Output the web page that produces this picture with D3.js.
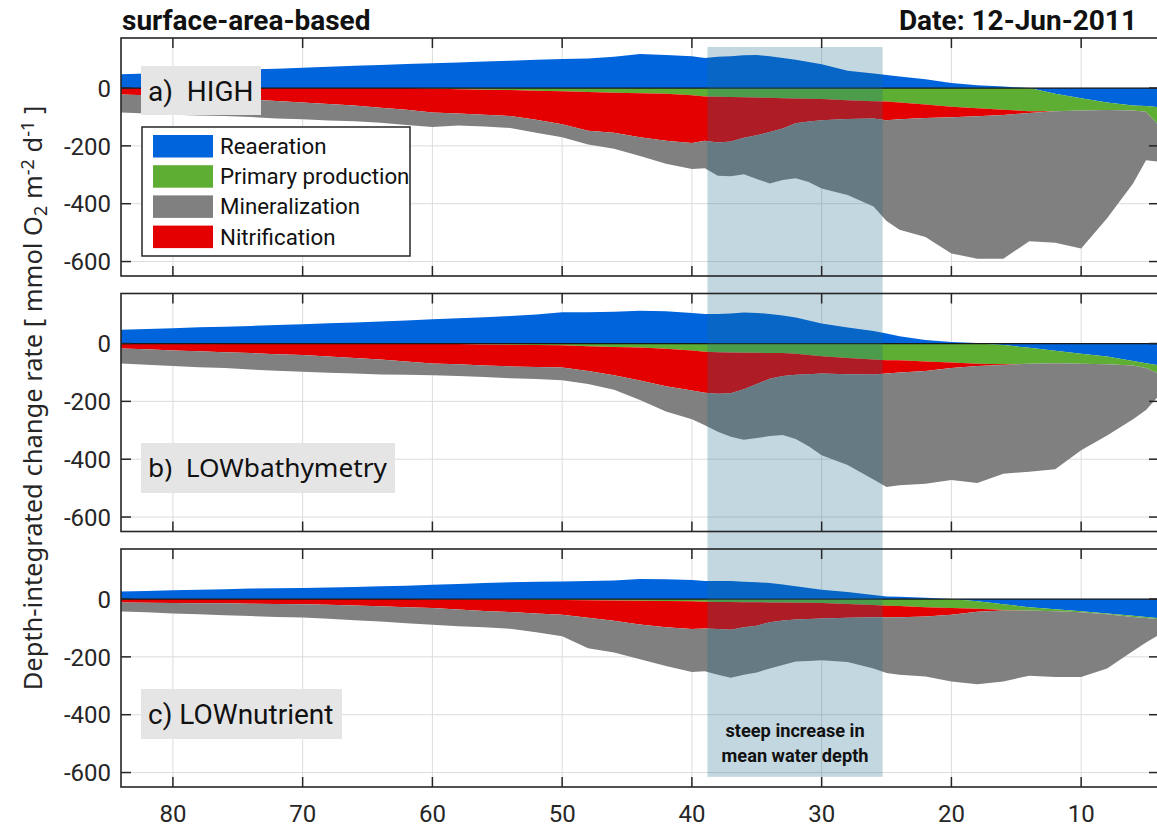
<!DOCTYPE html>
<html><head><meta charset="utf-8">
<script src="https://cdn.jsdelivr.net/npm/d3@7"></script>
<style>body{margin:0;background:#fff} svg{display:block}</style>
</head><body>
<svg id="chart" width="1157" height="828"></svg>
<script>
// distance along estuary (km)
const distance = [84,82,80,78,76,74,72,70,68,66,64,62,60,58,56,54,52,50,48,46,44,42,40,39,38,37,36,35,34,33,32,31,30,28,26,25,24,22,20,18,16,14,12,10,8,6,5,4];

// a) HIGH
const highReaeration = [48,50,55,60,63,65,67,70,74,77,80,83,86,88,92,94,98,100,102,108,118,114,110,104,108,110,113,114,110,104,98,90,82,60,50,45,40,30,17,10,5,0,-20,-35,-50,-60,-62,-66];
const highPrimary    = [0,0,0,0,0,0,0,0,0,0,0,0,-2,-4,-6,-7,-9,-11,-14,-16,-18,-20,-25,-29,-30,-31,-32,-33,-34,-35,-36,-37,-38,-42,-46,-47,-50,-57,-65,-70,-75,-80,-60,-43,-26,-18,-20,-64];
const highNitrif     = [-22,-25,-30,-33,-37,-40,-45,-50,-55,-60,-68,-75,-83,-84,-86,-90,-101,-114,-134,-139,-152,-162,-165,-153,-158,-154,-140,-130,-118,-105,-86,-79,-73,-65,-59,-64,-58,-47,-36,-28,-18,-6,0,0,0,0,0,0];
const highMineral    = [-63,-63,-62,-62,-60,-60,-60,-58,-57,-55,-52,-53,-50,-42,-41,-41,-45,-45,-47,-55,-65,-80,-90,-95,-115,-120,-126,-152,-178,-178,-190,-209,-236,-263,-305,-349,-382,-411,-471,-492,-497,-444,-455,-477,-374,-252,-168,-125];

// b) LOWbathymetry
const bathReaeration = [48,50,53,56,58,61,64,67,70,73,76,80,84,87,91,95,100,108,108,110,113,112,106,102,102,104,107,106,102,97,90,80,69,55,43,35,25,12,5,2,-5,-15,-25,-35,-45,-60,-68,-75];
const bathPrimary    = [0,0,0,0,0,0,0,0,0,0,0,0,-1,-2,-3,-4,-5,-6,-9,-12,-14,-18,-24,-28,-30,-31,-32,-32,-33,-33,-35,-40,-44,-50,-55,-58,-58,-62,-66,-70,-67,-55,-43,-35,-27,-16,-17,-30];
const bathNitrif     = [-17,-20,-24,-27,-30,-33,-37,-40,-45,-50,-55,-62,-68,-70,-73,-75,-76,-77,-86,-98,-114,-130,-138,-142,-144,-141,-126,-108,-89,-79,-73,-66,-60,-56,-52,-46,-42,-33,-19,-8,-2,0,0,0,0,0,0,0];
const bathMineral    = [-52,-53,-54,-55,-55,-57,-57,-58,-56,-54,-52,-46,-41,-40,-40,-41,-42,-44,-45,-50,-67,-87,-100,-113,-131,-150,-175,-187,-198,-204,-222,-249,-282,-314,-363,-392,-390,-390,-387,-404,-376,-373,-367,-299,-246,-186,-145,-75];

// c) LOWnutrient
const nutrReaeration = [26,28,30,32,34,36,37,38,40,42,44,46,49,52,55,58,60,61,62,64,69,68,66,62,62,62,60,58,55,50,44,38,32,24,14,9,8,4,0,-8,-18,-28,-35,-42,-50,-58,-62,-66];
const nutrPrimary    = [0,0,0,0,0,0,0,0,0,0,0,0,-1,-1,-2,-2,-3,-3,-4,-5,-6,-7,-8,-9,-10,-10,-11,-11,-12,-12,-13,-13,-14,-17,-21,-23,-24,-28,-31,-26,-20,-12,-7,-4,-3,-4,-4,-4];
const nutrNitrif     = [-12,-13,-14,-15,-15,-16,-17,-18,-20,-22,-25,-28,-30,-35,-39,-43,-47,-51,-61,-70,-82,-91,-96,-93,-94,-96,-87,-81,-68,-62,-58,-56,-53,-48,-42,-40,-39,-32,-23,-10,-2,0,0,0,0,0,0,0];
const nutrMineral    = [-31,-33,-36,-38,-41,-43,-45,-46,-48,-51,-53,-56,-58,-58,-57,-58,-65,-75,-105,-110,-120,-134,-148,-148,-158,-166,-164,-162,-160,-154,-145,-145,-145,-153,-177,-193,-199,-208,-231,-251,-245,-225,-228,-224,-187,-118,-84,-54];

// stacking order (closest to zero first) and legend order
const seriesKeys  = ["rea","prim","nit","min"];
const seriesNames = {rea:"Reaeration", prim:"Primary production", min:"Mineralization", nit:"Nitrification"};
const legendKeys  = ["rea","prim","min","nit"];
const colors = {rea:"#0064dc", prim:"#5dae33", min:"#808080", nit:"#e40000"};
const sinkKeys = ["prim","nit","min"]; // always <= 0
const panelLabels = ["a)  HIGH","b)  LOWbathymetry","c) LOWnutrient"];
const xTicks = [80,70,60,50,40,30,20,10];
const yTicks = [0,-200,-400,-600];
const xDomain = [84,4];
const yDomain = [-650,173];
const band = [38.8,25.3];
const bandText = ["steep increase in","mean water depth"];
const titleLeft = "surface-area-based";
const titleRight = "Date: 12-Jun-2011";

const panelData = [
  [highReaeration,highPrimary,highNitrif,highMineral],
  [bathReaeration,bathPrimary,bathNitrif,bathMineral],
  [nutrReaeration,nutrPrimary,nutrNitrif,nutrMineral]
];

const svg = d3.select("#chart");
const left = 121, right = 1159, ph = 238;
const tops = [38, 293.5, 549];
const x = d3.scaleLinear().domain(xDomain).range([left,right]);
const axisColor = "#262626";

const stack = d3.stack().keys(seriesKeys).offset(d3.stackOffsetDiverging).order(d3.stackOrderNone)
  .value((row,key)=> (sinkKeys.includes(key) && row[key]===0) ? -1e-9 : row[key]);

const panelsG = [];
tops.forEach((top,pi)=>{
  const y = d3.scaleLinear().domain(yDomain).range([top+ph, top]);
  const g = svg.append("g");
  panelsG.push({g,y,top});
  const clipId = "clip"+pi;
  svg.append("clipPath").attr("id",clipId).append("rect").attr("x",left).attr("y",top).attr("width",right-left).attr("height",ph);
  const grid = g.append("g").attr("clip-path",`url(#${clipId})`);
  grid.selectAll(".gx").data(xTicks).join("line").attr("x1",d=>x(d)).attr("x2",d=>x(d)).attr("y1",top).attr("y2",top+ph).attr("stroke","#dcdcdc").attr("stroke-width",1);
  grid.selectAll(".gy").data(yTicks).join("line").attr("y1",d=>y(d)).attr("y2",d=>y(d)).attr("x1",left).attr("x2",right).attr("stroke","#dcdcdc").attr("stroke-width",1);
  const arr = panelData[pi];
  const rows = distance.map((d,i)=>({d, rea:arr[0][i], prim:arr[1][i], nit:arr[2][i], min:arr[3][i]}));
  const stacked = stack(rows);
  const area = d3.area().x((d,i)=>x(rows[i].d)).y0(d=>y(d[0])).y1(d=>y(d[1]));
  const areas = g.append("g").attr("clip-path",`url(#${clipId})`);
  areas.selectAll("path").data(stacked).join("path").attr("d",area).attr("fill",s=>colors[s.key]);
  areas.append("line").attr("x1",left).attr("x2",right).attr("y1",y(0)).attr("y2",y(0)).attr("stroke","#1a1a1a").attr("stroke-width",1.2);
});

// shaded band
const yTopBand = panelsG[0].y(142), yBotBand = panelsG[2].y(-615);
const bx = (x(band[0])+x(band[1]))/2;
svg.append("rect").attr("x",x(band[0])).attr("width",x(band[1])-x(band[0])).attr("y",yTopBand).attr("height",yBotBand-yTopBand)
  .attr("fill","rgb(30,107,141)").attr("fill-opacity",0.27);
svg.append("text").attr("y",737).attr("text-anchor","middle")
  .attr("font-family","Roboto").attr("font-weight","bold").attr("font-size",18.2).attr("fill","#111")
  .selectAll("tspan").data(bandText).join("tspan").attr("x",bx).attr("dy",(d,i)=>i?25:0).text(d=>d);

// axes, ticks, panel labels
const boxes = [[141,66,120,49,"Roboto",28],[141,443,254,50,"Noto Sans",26.3],[141,689,201,50,"Roboto",28]];
panelsG.forEach(({g,y,top},pi)=>{
  const ax = svg.append("g");
  ax.append("rect").attr("x",left).attr("y",top).attr("width",right-left).attr("height",ph).attr("fill","none").attr("stroke",axisColor).attr("stroke-width",1.6);
  const tl = 10;
  xTicks.forEach(t=>{
    ax.append("line").attr("x1",x(t)).attr("x2",x(t)).attr("y1",top).attr("y2",top+tl).attr("stroke",axisColor).attr("stroke-width",1.5);
    ax.append("line").attr("x1",x(t)).attr("x2",x(t)).attr("y1",top+ph).attr("y2",top+ph-tl).attr("stroke",axisColor).attr("stroke-width",1.5);
  });
  yTicks.forEach(t=>{
    ax.append("line").attr("x1",left).attr("x2",left+tl).attr("y1",y(t)).attr("y2",y(t)).attr("stroke",axisColor).attr("stroke-width",1.5);
    ax.append("line").attr("x1",right).attr("x2",right-tl).attr("y1",y(t)).attr("y2",y(t)).attr("stroke",axisColor).attr("stroke-width",1.5);
    ax.append("text").attr("x",left-10).attr("y",y(t)).attr("dy","0.36em").attr("text-anchor","end")
      .attr("font-family","Roboto").attr("font-size",24).attr("fill",axisColor).text(t);
  });
  const b = boxes[pi];
  svg.append("rect").attr("x",b[0]).attr("y",b[1]).attr("width",b[2]).attr("height",b[3]).attr("fill","#e5e5e5");
  svg.append("text").attr("x",b[0]+7).attr("y",b[1]+b[3]/2).attr("dy","0.36em").attr("font-family",b[4]).attr("font-size",b[5])
    .attr("fill","#111").style("white-space","pre").text(panelLabels[pi]);
});

// x tick labels
xTicks.forEach(t=>{
  svg.append("text").attr("x",x(t)).attr("y",813).attr("dy","0.36em").attr("text-anchor","middle")
    .attr("font-family","Roboto").attr("font-size",24).attr("fill",axisColor).text(t);
});

// legend
const lg = svg.append("g");
lg.append("rect").attr("x",142).attr("y",127).attr("width",268).attr("height",129).attr("fill","#fff").attr("stroke",axisColor).attr("stroke-width",1.5);
legendKeys.forEach((k,i)=>{
  lg.append("rect").attr("x",153).attr("y",135+i*30.2).attr("width",60).attr("height",22.5).attr("fill",colors[k]);
  lg.append("text").attr("x",220).attr("y",146+i*30.2).attr("dy","0.36em").attr("font-family","Roboto").attr("font-size",22.3)
    .attr("fill","#111").text(seriesNames[k]);
});

// titles
svg.append("text").attr("x",122).attr("y",30).attr("font-family","Roboto").attr("font-weight","bold").attr("font-size",28).attr("fill","#111").text(titleLeft);
svg.append("text").attr("x",1137).attr("y",30).attr("text-anchor","end").attr("font-family","Roboto").attr("font-weight","bold").attr("font-size",28).attr("fill","#111").text(titleRight);

// y label
const yl = svg.append("text").attr("transform","translate(42,398) rotate(-90)").attr("text-anchor","middle")
  .attr("font-family","Noto Sans").attr("font-size",25.5).attr("fill","#262626");
yl.append("tspan").text("Depth-integrated change rate [ mmol O");
yl.append("tspan").attr("baseline-shift","-25%").attr("font-size",18).text("2");
yl.append("tspan").text(" m");
yl.append("tspan").attr("baseline-shift","45%").attr("font-size",18).text("-2");
yl.append("tspan").text(" d");
yl.append("tspan").attr("baseline-shift","45%").attr("font-size",18).text("-1");
yl.append("tspan").text(" ]");
</script>
</body></html>
